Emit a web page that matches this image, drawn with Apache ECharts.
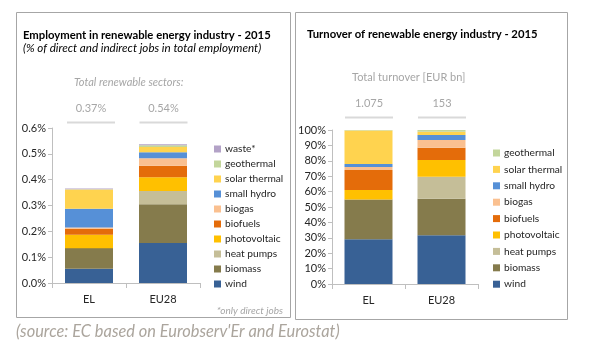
<!DOCTYPE html>
<html>
<head>
<meta charset="utf-8">
<script src="https://cdn.jsdelivr.net/npm/echarts@6/dist/echarts.min.js"></script>
<style>
  html, body { margin: 0; padding: 0; background: #fff; }
  #chart { width: 616px; height: 354px; }
</style>
</head>
<body>
<div id="chart"></div>
<script>
// categories (countries)
var countries = ['EL', 'EU28']
// sectors, stacked from the bottom up
var sectors = ['wind', 'biomass', 'heat pumps', 'photovoltaic', 'biofuels', 'biogas', 'small hydro', 'solar thermal', 'geothermal', 'waste*']
var sectorColors = ['#386195', '#857B4C', '#C5BE98', '#FFC000', '#E46C0A', '#FAC090', '#5690D7', '#FFD34F', '#C3D69B', '#B3A2C7']

// % of total employment, [EL, EU28]
var jobsWind = [0.055, 0.155]
var jobsBiomass = [0.080, 0.150]
var jobsHeatPumps = [0, 0.051]
var jobsPhotovoltaic = [0.052, 0.053]
var jobsBiofuels = [0.023, 0.045]
var jobsBiogas = [0.005, 0.029]
var jobsSmallHydro = [0.072, 0.023]
var jobsSolarThermal = [0.075, 0.020]
var jobsGeothermal = [0.001, 0.007]
var jobsWaste = [0.003, 0.004]

// share of turnover in %, [EL, EU28]
var turnWind = [29.0, 31.6]
var turnBiomass = [25.8, 23.8]
var turnHeatPumps = [0, 14.3]
var turnPhotovoltaic = [6.2, 10.8]
var turnBiofuels = [13.0, 8.0]
var turnBiogas = [2.0, 5.0]
var turnSmallHydro = [2.0, 3.3]
var turnSolarThermal = [21.6, 2.1]
var turnGeothermal = [0.4, 1.1]

// header totals above the bars
var jobsTotals = ['0.37%', '0.54%']
var turnTotals = ['1.075', '153']

var jobsData = [jobsWind, jobsBiomass, jobsHeatPumps, jobsPhotovoltaic, jobsBiofuels, jobsBiogas, jobsSmallHydro, jobsSolarThermal, jobsGeothermal, jobsWaste]
var turnData = [turnWind, turnBiomass, turnHeatPumps, turnPhotovoltaic, turnBiofuels, turnBiogas, turnSmallHydro, turnSolarThermal, turnGeothermal]

var font = 'Lato, "Open Sans", sans-serif'
var labelColor = '#262626'
var axisColor = '#BFBFBF'

var series = []
jobsData.forEach(function (vals, i) {
  series.push({
    name: sectors[i], type: 'bar', stack: 'jobs', xAxisIndex: 0, yAxisIndex: 0,
    barWidth: 48, itemStyle: { color: sectorColors[i] }, data: vals
  })
})
turnData.forEach(function (vals, i) {
  series.push({
    name: sectors[i], type: 'bar', stack: 'turn', xAxisIndex: 1, yAxisIndex: 1,
    barWidth: 48, itemStyle: { color: sectorColors[i] }, data: vals
  })
})

function legendFor(list) {
  return list.slice().reverse()
}

var chart = echarts.init(document.getElementById('chart'), null, { renderer: 'canvas' })

// header texts and the little grey lines under the totals
var graphics = [
  { type: 'rect', shape: { x: 16.5, y: 12.5, width: 274, height: 305 }, style: { fill: 'none', stroke: '#A6A6A6', lineWidth: 1 } },
  { type: 'rect', shape: { x: 295.5, y: 12.5, width: 272, height: 307 }, style: { fill: 'none', stroke: '#A6A6A6', lineWidth: 1 } },
  { type: 'text', left: 23, top: 30, style: { text: 'Employment in renewable energy industry - 2015', font: 'bold 11.3px ' + font, fill: '#000' } },
  { type: 'text', left: 23, top: 42, style: { text: '(% of direct and indirect jobs in total employment)', font: 'italic 11.6px ' + font, fill: '#000' } },
  { type: 'text', left: 74, top: 77, style: { text: 'Total renewable sectors:', font: 'italic 11px ' + font, fill: '#A6A6A6' } },
  { type: 'text', left: 307, top: 29, style: { text: 'Turnover of renewable energy industry - 2015', font: 'bold 11.3px ' + font, fill: '#000' } },
  { type: 'text', left: 352, top: 72, style: { text: 'Total turnover [EUR bn]', font: '11px ' + font, fill: '#A6A6A6' } },
  { type: 'text', right: 616 - 283, top: 306, style: { text: '*only direct jobs', font: 'italic 10px ' + font, fill: '#A6A6A6' } },
  { type: 'text', left: 16, top: 324, style: { text: "(source: EC based on Eurobserv'Er and Eurostat)", font: 'italic 16.4px ' + font, fill: '#ABA59D' } }
]
var jobsCenters = [91, 163.5]
var turnCenters = [369, 442]
jobsTotals.forEach(function (t, i) {
  graphics.push({ type: 'text', x: jobsCenters[i], y: 108, style: { text: t, font: '11px ' + font, fill: '#A6A6A6', align: 'center', verticalAlign: 'middle' } })
  graphics.push({ type: 'line', shape: { x1: jobsCenters[i] - 24, y1: 122.5, x2: jobsCenters[i] + 24, y2: 122.5 }, style: { stroke: '#D9D9D9', lineWidth: 2 } })
})
turnTotals.forEach(function (t, i) {
  graphics.push({ type: 'text', x: turnCenters[i], y: 103, style: { text: t, font: '11px ' + font, fill: '#A6A6A6', align: 'center', verticalAlign: 'middle' } })
  graphics.push({ type: 'line', shape: { x1: turnCenters[i] - 24, y1: 117.5, x2: turnCenters[i] + 24, y2: 117.5 }, style: { stroke: '#D9D9D9', lineWidth: 2 } })
})

chart.setOption({
  animation: false,
  backgroundColor: '#fff',
  textStyle: { fontFamily: font },
  grid: [
    { left: 52, right: 616 - 200, top: 128, bottom: 354 - 283 },
    { left: 332, right: 616 - 478, top: 130, bottom: 354 - 284 }
  ],
  legend: [
    {
      orient: 'vertical', left: 209, top: 138, itemWidth: 7, itemHeight: 7, itemGap: 3,
      icon: 'rect', selectedMode: false,
      textStyle: { fontSize: 10.2, lineHeight: 12, color: labelColor, padding: [0, 0, 0, -1] },
      data: legendFor(sectors)
    },
    {
      orient: 'vertical', left: 488, top: 142, itemWidth: 7, itemHeight: 7, itemGap: 4.4,
      icon: 'rect', selectedMode: false,
      textStyle: { fontSize: 10.2, lineHeight: 12, color: labelColor, padding: [0, 0, 0, -1] },
      data: legendFor(sectors.slice(0, 9))
    }
  ],
  xAxis: [
    {
      type: 'category', gridIndex: 0, data: countries,
      axisLine: { lineStyle: { color: axisColor } },
      axisTick: { show: true, lineStyle: { color: axisColor } },
      axisLabel: { color: labelColor, fontSize: 11, margin: 11 }
    },
    {
      type: 'category', gridIndex: 1, data: countries,
      axisLine: { lineStyle: { color: axisColor } },
      axisTick: { show: true, lineStyle: { color: axisColor } },
      axisLabel: { color: labelColor, fontSize: 11, margin: 11 }
    }
  ],
  yAxis: [
    {
      type: 'value', gridIndex: 0, min: 0, max: 0.6, interval: 0.1,
      axisLine: { show: true, lineStyle: { color: axisColor } },
      axisTick: { show: true, length: 4, lineStyle: { color: axisColor } },
      splitLine: { show: false },
      axisLabel: { color: labelColor, fontSize: 11, margin: 6, formatter: function (v) { return v.toFixed(1) + '%' } }
    },
    {
      type: 'value', gridIndex: 1, min: 0, max: 100, interval: 10,
      axisLine: { show: true, lineStyle: { color: axisColor } },
      axisTick: { show: true, length: 4, lineStyle: { color: axisColor } },
      splitLine: { show: false },
      axisLabel: { color: labelColor, fontSize: 11, margin: 6, formatter: '{value}%' }
    }
  ],
  graphic: graphics,
  series: series
})
</script>
</body>
</html>
